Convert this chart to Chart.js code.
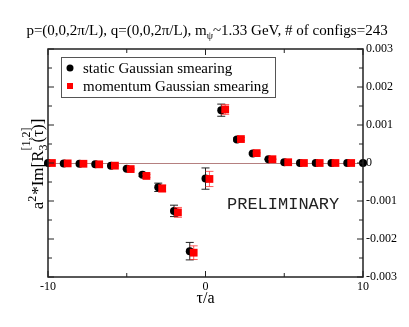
<!DOCTYPE html>
<html>
<head>
<meta charset="utf-8">
<script src="https://cdn.jsdelivr.net/npm/chart.js@4"></script>
<style>
  html, body { margin: 0; padding: 0; background: #fff; }
  #wrap { width: 409px; height: 327px; }
</style>
</head>
<body>
<div id="wrap"><canvas id="chart" width="409" height="327"></canvas></div>
<script>
// tau/a values
const tau = [-10, -9, -8, -7, -6, -5, -4, -3, -2, -1, 0, 1, 2, 3, 4, 5, 6, 7, 8, 9, 10];
// static Gaussian smearing
const staticVals = [0, -0.00001, -0.00002, -0.000035, -0.00007, -0.00015, -0.00031, -0.00064, -0.00126, -0.00232, -0.00041,
                    0.00139, 0.00062, 0.00025, 0.0001, 0.00002, 0, 0, 0, 0, 0];
const staticErr = [0, 0, 0, 0, 0.00001, 0.00002, 0.00004, 0.00011, 0.00015, 0.00023, 0.00028,
                   0.00016, 0.00004, 0.00002, 0.00001, 0, 0, 0, 0, 0, 0];
// momentum Gaussian smearing (plotted slightly shifted in tau)
const momTau = [-9.75, -8.75, -7.75, -6.75, -5.75, -4.75, -3.75, -2.75, -1.75, -0.75, 0.25,
                1.25, 2.25, 3.25, 4.25, 5.25, 6.25, 7.25, 8.25, 9.25, 10.25];
const momVals = [0, -0.00001, -0.00002, -0.000035, -0.00007, -0.00016, -0.00034, -0.00067, -0.0013, -0.00236, -0.00042,
                 0.00141, 0.00063, 0.00026, 0.0001, 0.00002, 0, 0, 0, 0, 0];
const momErr = [0, 0, 0, 0, 0.00001, 0.00002, 0.00004, 0.00009, 0.00013, 0.00018, 0.0002,
                0.00013, 0.00004, 0.00002, 0.00001, 0, 0, 0, 0, 0, 0];

const xTicksShown = [-10, 0, 10];
const serif = "'Liberation Serif', 'Times New Roman', serif";

function isMajorY(v) {
    const k = v / 0.001;
    return Math.abs(k - Math.round(k)) < 1e-6;
}

// error bars under each dataset's markers
const errorBars = {
    id: 'errorBars',
    beforeDatasetDraw(chart, args) {
        const ds = chart.data.datasets[args.index];
        const x = chart.scales.x, y = chart.scales.y;
        const ctx = chart.ctx;
        ctx.save();
        ctx.strokeStyle = ds.errColor;
        ctx.lineWidth = 1;
        ds.data.forEach((p, i) => {
            const e = ds.errors[i];
            if (!e) return;
            const px = x.getPixelForValue(p.x);
            const y1 = y.getPixelForValue(p.y + e), y2 = y.getPixelForValue(p.y - e);
            ctx.beginPath();
            ctx.moveTo(px, y1); ctx.lineTo(px, y2);
            ctx.moveTo(px - 4, y1); ctx.lineTo(px + 4, y1);
            ctx.moveTo(px - 4, y2); ctx.lineTo(px + 4, y2);
            ctx.stroke();
        });
        ctx.restore();
    }
};

// frame, inward ticks, legend, labels
const decorations = {
    id: 'decorations',
    afterDraw(chart) {
        const ctx = chart.ctx;
        const a = chart.chartArea;
        const x = chart.scales.x, y = chart.scales.y;
        ctx.save();

        // frame
        ctx.strokeStyle = '#222';
        ctx.lineWidth = 1.5;
        ctx.strokeRect(a.left, a.top, a.right - a.left, a.bottom - a.top);

        // inward ticks
        ctx.lineWidth = 1;
        ctx.beginPath();
        x.ticks.forEach(t => {
            const px = x.getPixelForValue(t.value);
            const len = t.value % 10 === 0 ? 6 : 4;
            ctx.moveTo(px, a.bottom); ctx.lineTo(px, a.bottom - len);
            ctx.moveTo(px, a.top); ctx.lineTo(px, a.top + len);
        });
        y.ticks.forEach(t => {
            const py = y.getPixelForValue(t.value);
            const len = isMajorY(t.value) ? 6 : 4;
            ctx.moveTo(a.left, py); ctx.lineTo(a.left + len, py);
            ctx.moveTo(a.right, py); ctx.lineTo(a.right - len, py);
        });
        ctx.stroke();

        // title with subscript
        ctx.fillStyle = '#000';
        ctx.textBaseline = 'alphabetic';
        const f = 15, fs = 10;
        const parts = [
            ['p=(0,0,2\u03c0/L), q=(0,0,2\u03c0/L), m', f, 0],
            ['\u03c8', fs, 4],
            ['~1.33 GeV, # of configs=243', f, 0]
        ];
        let tw = 0;
        parts.forEach(p => { ctx.font = p[1] + 'px ' + serif; tw += ctx.measureText(p[0]).width; });
        let tx = 207 - tw / 2;
        parts.forEach(p => {
            ctx.font = p[1] + 'px ' + serif;
            ctx.fillText(p[0], tx, 35 + p[2]);
            tx += ctx.measureText(p[0]).width;
        });

        // y axis label (rotated)
        ctx.save();
        ctx.translate(43, 164);
        ctx.rotate(-Math.PI / 2);
        const lf = 17, ls = 12;
        const seg = (txt, size) => { ctx.font = size + 'px ' + serif; return ctx.measureText(txt).width; };
        const wA = seg('a', lf), w2 = seg('2', ls), wB = seg('*Im[R', lf), w3 = seg('3', ls),
              wC = seg('(\u03c4)]', lf);
        const total = wA + w2 + 1 + wB + w3 + 2 + wC;
        let lx = -total / 2;
        ctx.font = lf + 'px ' + serif; ctx.fillText('a', lx, 0); lx += wA;
        ctx.font = ls + 'px ' + serif; ctx.fillText('2', lx, -7); lx += w2 + 1;
        ctx.font = lf + 'px ' + serif; ctx.fillText('*Im[R', lx, 0); lx += wB;
        ctx.font = ls + 'px ' + serif; ctx.fillText('3', lx, 4); ctx.fillText('[1,2]', lx, -13); lx += w3 + 2;
        ctx.font = lf + 'px ' + serif; ctx.fillText('(\u03c4)]', lx, 0);
        ctx.restore();

        // legend box
        ctx.strokeStyle = '#555';
        ctx.lineWidth = 1;
        ctx.strokeRect(61.5, 57.5, 214, 40);
        ctx.font = '15px ' + serif;
        ctx.textBaseline = 'middle';
        const ds = chart.data.datasets;
        const rows = [[ds[0], 68], [ds[1], 86]];
        rows.forEach(([d, ry]) => {
            ctx.fillStyle = d.backgroundColor;
            if (d.pointStyle === 'circle') {
                ctx.beginPath(); ctx.arc(70, ry, 3.5, 0, Math.PI * 2); ctx.fill();
            } else {
                ctx.fillRect(67, ry - 3, 6, 6);
            }
            ctx.fillStyle = '#000';
            ctx.fillText(d.label, 83, ry + 1);
        });

        // watermark
        ctx.font = "17px 'Liberation Mono', 'Courier New', monospace";
        ctx.textBaseline = 'alphabetic';
        ctx.fillStyle = '#222';
        ctx.fillText('PRELIMINARY', 227, 209);

        ctx.restore();
    }
};

new Chart(document.getElementById('chart'), {
    type: 'scatter',
    data: {
        datasets: [
            {
                label: 'static Gaussian smearing',
                data: tau.map((t, i) => ({ x: t, y: staticVals[i] })),
                errors: staticErr,
                errColor: '#222',
                pointStyle: 'circle',
                pointRadius: 4,
                borderWidth: 0,
                backgroundColor: '#000',
                borderColor: '#000',
                order: 1,
                clip: false
            },
            {
                label: 'momentum Gaussian smearing',
                data: momTau.map((t, i) => ({ x: t, y: momVals[i] })),
                errors: momErr,
                errColor: 'rgba(255,40,40,0.75)',
                pointStyle: 'rect',
                pointRadius: 5.5,
                borderWidth: 0,
                backgroundColor: '#ff0000',
                borderColor: '#ff0000',
                order: 0
            }
        ]
    },
    options: {
        responsive: false,
        animation: false,
        layout: { padding: { left: 48, top: 49, right: 0, bottom: 0 } },
        plugins: { legend: { display: false }, tooltip: { enabled: false } },
        scales: {
            x: {
                type: 'linear',
                min: -10, max: 10,
                ticks: {
                    stepSize: 5,
                    autoSkip: false,
                    maxRotation: 0,
                    padding: -5,
                    color: '#000',
                    font: { family: serif, size: 12 },
                    callback: v => xTicksShown.includes(v) ? String(v) : ''
                },
                grid: { display: false },
                border: { display: false },
                title: {
                    display: true,
                    text: '\u03c4/a',
                    color: '#000',
                    font: { family: serif, size: 16 },
                    padding: { top: 0, bottom: 19 }
                },
                afterFit: s => { s.height = 50; }
            },
            y: {
                type: 'linear',
                position: 'right',
                min: -0.003, max: 0.003,
                ticks: {
                    stepSize: 0.0005,
                    autoSkip: false,
                    padding: 3,
                    color: '#000',
                    font: { family: serif, size: 12 },
                    callback: v => isMajorY(v) ? String(Number(v.toFixed(4))) : ''
                },
                grid: {
                    drawTicks: false,
                    lineWidth: 1,
                    color: c => (c.tick && Math.abs(c.tick.value) < 1e-9) ? '#b58080' : 'rgba(0,0,0,0)'
                },
                border: { display: false },
                afterFit: s => { s.width = 46; }
            }
        }
    },
    plugins: [errorBars, decorations]
});
</script>
</body>
</html>
